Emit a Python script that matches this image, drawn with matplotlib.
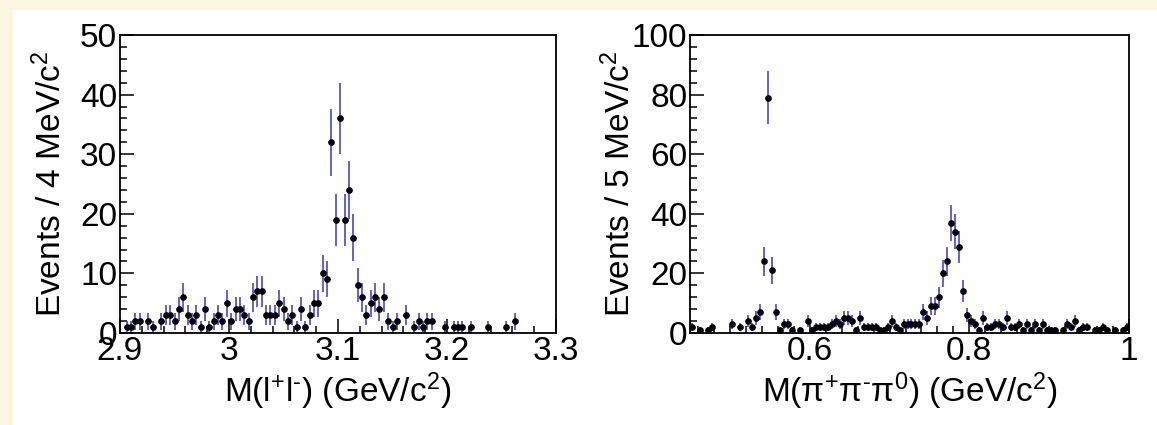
import matplotlib
matplotlib.use("Agg")
import matplotlib.pyplot as plt
from matplotlib.ticker import MultipleLocator
import numpy as np

plt.rcParams['font.family'] = ['Liberation Sans', 'DejaVu Sans']
plt.rcParams['mathtext.fontset'] = 'custom'
plt.rcParams['mathtext.rm'] = 'Liberation Sans'
plt.rcParams['mathtext.it'] = 'Liberation Sans:italic'
plt.rcParams['mathtext.bf'] = 'Liberation Sans:bold'

# M(l+l-): 100 bins of 4 MeV from 2.9 to 3.3 GeV
ll_lo, ll_hi, ll_bin = 2.9, 3.3, 0.004
ll_counts = [0, 1, 1, 2, 2, 0, 2, 1, 0, 2,
             3, 3, 2, 4, 6, 3, 2, 3, 1, 4,
             1, 2, 3, 2, 5, 2, 4, 4, 3, 2,
             6, 7, 7, 3, 3, 3, 5, 4, 2, 3,
             1, 4, 1, 3, 5, 5, 10, 9, 32, 19,
             36, 19, 24, 16, 8, 6, 3, 5, 6, 4,
             6, 2, 1, 2, 0, 3, 0, 1, 2, 1,
             2, 2, 0, 0, 1, 0, 1, 1, 1, 0,
             1, 0, 0, 0, 1, 0, 0, 0, 1, 0,
             2, 0, 0, 0, 0, 0, 0, 0, 0, 0]

# M(pi+pi-pi0): 110 bins of 5 MeV from 0.45 to 1.0 GeV
ppp_lo, ppp_hi, ppp_bin = 0.45, 1.0, 0.005
ppp_counts = [2, 0, 1, 0, 1, 2, 0, 0, 0, 0,
              3, 0, 2, 0, 4, 2, 5, 7, 24, 79,
              21, 7, 1, 3, 3, 1, 0, 1, 0, 4,
              1, 2, 2, 2, 2, 3, 4, 3, 5, 5,
              4, 1, 5, 2, 2, 2, 2, 1, 1, 2,
              4, 2, 1, 3, 3, 3, 3, 3, 7, 5,
              9, 9, 12, 20, 24, 37, 34, 29, 14, 6,
              4, 3, 1, 5, 2, 2, 3, 3, 2, 5,
              2, 2, 3, 1, 3, 1, 3, 1, 3, 1,
              1, 1, 0, 1, 3, 2, 4, 1, 2, 2,
              0, 1, 1, 2, 1, 0, 1, 0, 1, 2]

cream = '#fbf5e1'
errcol = '#4848c8'

fig = plt.figure(figsize=(11.57, 4.25), dpi=100, facecolor=cream)
fig.patches.append(plt.Rectangle((13 / 1157, 0), 1, (425 - 10) / 425,
                                 transform=fig.transFigure, facecolor='white',
                                 edgecolor='none', zorder=-10))


def draw(ax, lo, hi, width, counts, ymax, ymajor, xmajor, xminor):
    counts = np.array(counts, dtype=float)
    centers = lo + width * (np.arange(len(counts)) + 0.5)
    keep = counts > 0
    x, y = centers[keep], counts[keep]
    ax.errorbar(x, y, yerr=np.sqrt(y), fmt='none', ecolor=errcol, elinewidth=1.2)
    ax.errorbar(x, y, xerr=width / 2, fmt='o', color='black', ms=3.8,
                elinewidth=0.9, capsize=0)
    ax.set_xlim(lo, hi)
    ax.set_ylim(0, ymax)
    ax.yaxis.set_major_locator(MultipleLocator(ymajor))
    ax.yaxis.set_minor_locator(MultipleLocator(ymajor / 5))
    ax.xaxis.set_major_locator(MultipleLocator(xmajor))
    ax.xaxis.set_minor_locator(MultipleLocator(xminor))
    ax.tick_params(which='both', direction='in', labelsize=24, pad=2, width=1.1)
    ax.tick_params(which='major', length=10)
    ax.tick_params(which='minor', length=5)
    for s in ax.spines.values():
        s.set_linewidth(1.3)


ax1 = fig.add_axes([120 / 1157, 92 / 425, 436 / 1157, 298 / 425])
draw(ax1, ll_lo, ll_hi, ll_bin, ll_counts, 50, 10, 0.1, 0.02)
ax1.set_xticks([2.9, 3.0, 3.1, 3.2, 3.3])
ax1.set_xticklabels(['2.9', '3', '3.1', '3.2', '3.3'])
ax1.set_ylabel('Events / 4 MeV/c$^{2}$', fontsize=24)
ax1.set_xlabel(r'M(l$^{+}$l$^{\text{-}}$) (GeV/c$^{2}$)', fontsize=24)
ax1.yaxis.set_label_coords(-0.12, 0.5)
ax1.xaxis.set_label_coords(0.5, -0.125)

ax2 = fig.add_axes([690 / 1157, 92 / 425, 439 / 1157, 298 / 425])
draw(ax2, ppp_lo, ppp_hi, ppp_bin, ppp_counts, 100, 20, 0.2, 0.02)
ax2.set_xticks([0.6, 0.8, 1.0])
ax2.set_xticklabels(['0.6', '0.8', '1'])
ax2.set_ylabel('Events / 5 MeV/c$^{2}$', fontsize=24)
ax2.set_xlabel(r'M(π$^{+}$π$^{\text{-}}$π$^{0}$) (GeV/c$^{2}$)', fontsize=24)
ax2.yaxis.set_label_coords(-0.12, 0.5)
ax2.xaxis.set_label_coords(0.5, -0.125)

fig.savefig('out.png', dpi=100, facecolor=cream)
